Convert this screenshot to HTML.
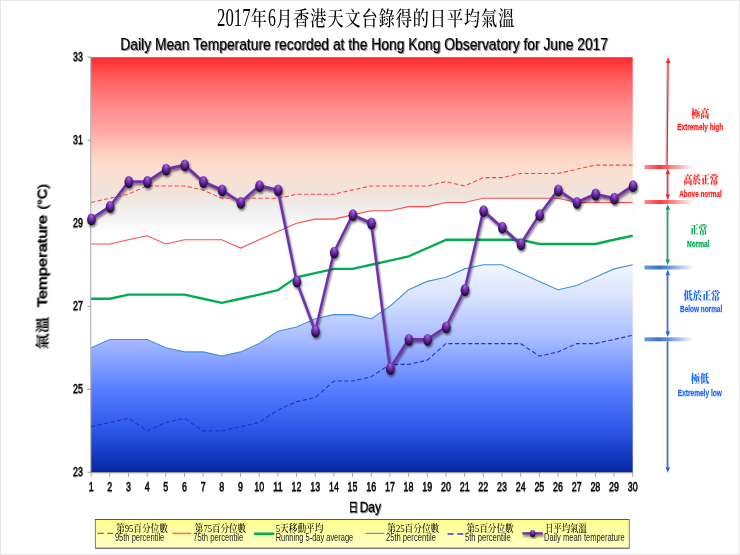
<!DOCTYPE html>
<html lang="zh-Hant">
<head>
<meta charset="utf-8">
<title>2017年6月香港天文台錄得的日平均氣溫</title>
<style>
html,body{margin:0;padding:0;background:#fff;}
body{width:740px;height:555px;overflow:hidden;}
svg{display:block;}
text{font-family:"Liberation Sans","Noto Sans CJK TC",sans-serif;}
.kai{font-family:"Liberation Serif","Noto Serif CJK SC",serif;}
</style>
</head>
<body>
<svg width="740" height="555" viewBox="0 0 740 555">
<defs>
<linearGradient id="bg" x1="0" y1="0" x2="0" y2="1">
<stop offset="0" stop-color="#ff2a2a"/>
<stop offset="0.048" stop-color="#ff5c5c"/>
<stop offset="0.113" stop-color="#ff8888"/>
<stop offset="0.178" stop-color="#ffa8a8"/>
<stop offset="0.231" stop-color="#fdd0c0"/>
<stop offset="0.263" stop-color="#fcddcd"/>
<stop offset="0.296" stop-color="#f7e1d5"/>
<stop offset="0.330" stop-color="#f0e3db"/>
<stop offset="0.356" stop-color="#efebe9"/>
<stop offset="0.388" stop-color="#f4f4f4"/>
<stop offset="0.425" stop-color="#ffffff"/>
<stop offset="1" stop-color="#ffffff"/>
</linearGradient>
<linearGradient id="blue" gradientUnits="userSpaceOnUse" x1="0" y1="57" x2="0" y2="472">
<stop offset="0.49" stop-color="#f4f7ff"/>
<stop offset="0.57" stop-color="#dbe5fd"/>
<stop offset="0.68" stop-color="#a8bcff"/>
<stop offset="0.80" stop-color="#587eff"/>
<stop offset="0.90" stop-color="#2b56e6"/>
<stop offset="1" stop-color="#0626a4"/>
</linearGradient>
<radialGradient id="ball" cx="0.5" cy="0.3" r="0.7" fx="0.5" fy="0.18">
<stop offset="0" stop-color="#a968ea"/>
<stop offset="0.4" stop-color="#7232aa"/>
<stop offset="0.78" stop-color="#3a1260"/>
<stop offset="1" stop-color="#14041f"/>
</radialGradient>
<linearGradient id="rbar" x1="0" y1="0" x2="1" y2="0">
<stop offset="0" stop-color="#ff3838" stop-opacity="0.6"/>
<stop offset="0.3" stop-color="#ff3030" stop-opacity="0.95"/>
<stop offset="0.48" stop-color="#ff3838" stop-opacity="0.75"/>
<stop offset="1" stop-color="#ff4040" stop-opacity="0"/>
</linearGradient>
<linearGradient id="bbar" x1="0" y1="0" x2="1" y2="0">
<stop offset="0" stop-color="#3c78d0" stop-opacity="0.75"/>
<stop offset="0.3" stop-color="#386fca" stop-opacity="0.98"/>
<stop offset="0.48" stop-color="#3c78d0" stop-opacity="0.8"/>
<stop offset="1" stop-color="#3c78d0" stop-opacity="0"/>
</linearGradient>
<linearGradient id="leg" x1="0" y1="0" x2="0" y2="1">
<stop offset="0" stop-color="#ffff8c"/>
<stop offset="1" stop-color="#ffffc8"/>
</linearGradient>
<filter id="sh" x="-20%" y="-20%" width="140%" height="150%">
<feGaussianBlur in="SourceAlpha" stdDeviation="1.1"/>
<feOffset dx="1.2" dy="1.6" result="b"/>
<feComponentTransfer><feFuncA type="linear" slope="0.55"/></feComponentTransfer>
<feMerge><feMergeNode/><feMergeNode in="SourceGraphic"/></feMerge>
</filter>
<filter id="tsh" x="-5%" y="-20%" width="110%" height="150%">
<feGaussianBlur in="SourceAlpha" stdDeviation="0.6"/>
<feOffset dx="0.9" dy="0.9"/>
<feComponentTransfer><feFuncA type="linear" slope="0.45"/></feComponentTransfer>
<feMerge><feMergeNode/><feMergeNode in="SourceGraphic"/></feMerge>
</filter>
<filter id="flat" x="0" y="0" width="100%" height="100%"><feOffset dx="0" dy="0"/></filter>
<filter id="ssh" x="-10%" y="-20%" width="125%" height="150%">
<feGaussianBlur in="SourceAlpha" stdDeviation="0.45"/>
<feOffset dx="0.6" dy="0.6"/>
<feComponentTransfer><feFuncA type="linear" slope="0.4"/></feComponentTransfer>
<feMerge><feMergeNode/><feMergeNode in="SourceGraphic"/></feMerge>
</filter>
<filter id="bl" x="-5%" y="-60%" width="110%" height="220%"><feGaussianBlur stdDeviation="0.7"/></filter>
</defs>
<rect x="0" y="0" width="740" height="555" fill="#ffffff"/>
<rect x="0.5" y="0.5" width="739" height="554" fill="none" stroke="#e6e8e8" stroke-width="1"/>

<g filter="url(#flat)"><g transform="scale(0.800,1)">
<rect x="113.87" y="57.2" width="677.00" height="415.1" fill="url(#bg)"/>
<polygon points="113.9,244.0 137.2,244.0 160.6,239.8 183.9,235.7 207.3,244.0 230.6,239.8 253.9,239.8 277.3,239.8 300.6,248.1 324.0,239.8 347.3,231.5 370.7,223.2 394.0,219.1 417.4,219.1 440.7,214.9 464.0,210.8 487.4,210.8 510.7,206.6 534.1,206.6 557.4,202.5 580.8,202.5 604.1,198.3 627.5,198.3 650.8,198.3 674.2,198.3 697.5,198.3 720.8,202.5 744.2,202.5 767.5,202.5 790.9,202.5 790.9,472.3 113.9,472.3" fill="#ffffff"/>
<polygon points="113.9,347.8 137.2,339.5 160.6,339.5 183.9,339.5 207.3,347.8 230.6,351.9 253.9,351.9 277.3,356.1 300.6,351.9 324.0,343.6 347.3,331.2 370.7,327.0 394.0,318.7 417.4,314.6 440.7,314.6 464.0,318.7 487.4,306.3 510.7,289.7 534.1,281.4 557.4,277.2 580.8,268.9 604.1,264.8 627.5,264.8 650.8,273.1 674.2,281.4 697.5,289.7 720.8,285.5 744.2,277.2 767.5,268.9 790.9,264.8 790.9,472.3 113.9,472.3" fill="url(#blue)"/>
<g stroke="#9a9a9a" stroke-width="1.1" fill="none">
<line x1="113.47" y1="57.2" x2="113.47" y2="472.8"/>
<line x1="113.47" y1="472.6" x2="791.27" y2="472.6"/>
<line x1="109.37" y1="57.2" x2="113.87" y2="57.2"/>
<line x1="109.37" y1="140.2" x2="113.87" y2="140.2"/>
<line x1="109.37" y1="223.2" x2="113.87" y2="223.2"/>
<line x1="109.37" y1="306.3" x2="113.87" y2="306.3"/>
<line x1="109.37" y1="389.3" x2="113.87" y2="389.3"/>
<line x1="109.37" y1="472.3" x2="113.87" y2="472.3"/>
<line x1="113.87" y1="472.3" x2="113.87" y2="476.7"/>
<line x1="137.22" y1="472.3" x2="137.22" y2="476.7"/>
<line x1="160.56" y1="472.3" x2="160.56" y2="476.7"/>
<line x1="183.91" y1="472.3" x2="183.91" y2="476.7"/>
<line x1="207.25" y1="472.3" x2="207.25" y2="476.7"/>
<line x1="230.60" y1="472.3" x2="230.60" y2="476.7"/>
<line x1="253.94" y1="472.3" x2="253.94" y2="476.7"/>
<line x1="277.29" y1="472.3" x2="277.29" y2="476.7"/>
<line x1="300.63" y1="472.3" x2="300.63" y2="476.7"/>
<line x1="323.98" y1="472.3" x2="323.98" y2="476.7"/>
<line x1="347.32" y1="472.3" x2="347.32" y2="476.7"/>
<line x1="370.67" y1="472.3" x2="370.67" y2="476.7"/>
<line x1="394.01" y1="472.3" x2="394.01" y2="476.7"/>
<line x1="417.36" y1="472.3" x2="417.36" y2="476.7"/>
<line x1="440.70" y1="472.3" x2="440.70" y2="476.7"/>
<line x1="464.05" y1="472.3" x2="464.05" y2="476.7"/>
<line x1="487.39" y1="472.3" x2="487.39" y2="476.7"/>
<line x1="510.74" y1="472.3" x2="510.74" y2="476.7"/>
<line x1="534.08" y1="472.3" x2="534.08" y2="476.7"/>
<line x1="557.43" y1="472.3" x2="557.43" y2="476.7"/>
<line x1="580.77" y1="472.3" x2="580.77" y2="476.7"/>
<line x1="604.12" y1="472.3" x2="604.12" y2="476.7"/>
<line x1="627.46" y1="472.3" x2="627.46" y2="476.7"/>
<line x1="650.81" y1="472.3" x2="650.81" y2="476.7"/>
<line x1="674.15" y1="472.3" x2="674.15" y2="476.7"/>
<line x1="697.50" y1="472.3" x2="697.50" y2="476.7"/>
<line x1="720.84" y1="472.3" x2="720.84" y2="476.7"/>
<line x1="744.19" y1="472.3" x2="744.19" y2="476.7"/>
<line x1="767.53" y1="472.3" x2="767.53" y2="476.7"/>
<line x1="790.88" y1="472.3" x2="790.88" y2="476.7"/>
</g>
<polyline points="113.9,202.5 137.2,198.3 160.6,194.2 183.9,185.9 207.3,185.9 230.6,185.9 253.9,190.0 277.3,198.3 300.6,198.3 324.0,198.3 347.3,198.3 370.7,194.2 394.0,194.2 417.4,194.2 440.7,190.0 464.0,185.9 487.4,185.9 510.7,185.9 534.1,185.9 557.4,181.7 580.8,185.9 604.1,177.6 627.5,177.6 650.8,173.4 674.2,173.4 697.5,173.4 720.8,169.3 744.2,165.1 767.5,165.1 790.9,165.1" fill="none" stroke="#ff4040" stroke-width="1.05" stroke-dasharray="5.2 3"/>
<polyline points="113.9,244.0 137.2,244.0 160.6,239.8 183.9,235.7 207.3,244.0 230.6,239.8 253.9,239.8 277.3,239.8 300.6,248.1 324.0,239.8 347.3,231.5 370.7,223.2 394.0,219.1 417.4,219.1 440.7,214.9 464.0,210.8 487.4,210.8 510.7,206.6 534.1,206.6 557.4,202.5 580.8,202.5 604.1,198.3 627.5,198.3 650.8,198.3 674.2,198.3 697.5,198.3 720.8,202.5 744.2,202.5 767.5,202.5 790.9,202.5" fill="none" stroke="#ff4a4a" stroke-width="1.1"/>
<polyline points="113.9,347.8 137.2,339.5 160.6,339.5 183.9,339.5 207.3,347.8 230.6,351.9 253.9,351.9 277.3,356.1 300.6,351.9 324.0,343.6 347.3,331.2 370.7,327.0 394.0,318.7 417.4,314.6 440.7,314.6 464.0,318.7 487.4,306.3 510.7,289.7 534.1,281.4 557.4,277.2 580.8,268.9 604.1,264.8 627.5,264.8 650.8,273.1 674.2,281.4 697.5,289.7 720.8,285.5 744.2,277.2 767.5,268.9 790.9,264.8" fill="none" stroke="#3f8fd6" stroke-width="1.1"/>
<polyline points="113.9,426.6 137.2,422.5 160.6,418.3 183.9,430.8 207.3,422.5 230.6,418.3 253.9,430.8 277.3,430.8 300.6,426.6 324.0,422.5 347.3,410.0 370.7,401.7 394.0,397.6 417.4,381.0 440.7,381.0 464.0,376.8 487.4,364.4 510.7,364.4 534.1,360.2 557.4,343.6 580.8,343.6 604.1,343.6 627.5,343.6 650.8,343.6 674.2,356.1 697.5,351.9 720.8,343.6 744.2,343.6 767.5,339.5 790.9,335.3" fill="none" stroke="#2232d8" stroke-width="1.2" stroke-dasharray="5.2 3"/>
<polyline points="113.9,298.8 137.2,298.8 160.6,294.6 183.9,294.6 207.3,294.6 230.6,294.6 253.9,298.8 277.3,302.9 300.6,298.8 324.0,294.6 347.3,290.1 370.7,277.2 394.0,273.1 417.4,268.9 440.7,268.9 464.0,264.8 487.4,260.6 510.7,256.4 534.1,248.1 557.4,239.8 580.8,239.8 604.1,239.8 627.5,239.8 650.8,239.8 674.2,244.0 697.5,244.0 720.8,244.0 744.2,244.0 767.5,239.8 790.9,235.7" fill="none" stroke="#00ad50" stroke-width="2.4" stroke-linejoin="round"/>
<g filter="url(#sh)">
<polyline points="113.9,219.1 137.2,206.6 160.6,181.7 183.9,181.7 207.3,169.3 230.6,165.1 253.9,181.7 277.3,190.0 300.6,202.5 324.0,185.9 347.3,190.0 370.7,281.4 394.0,331.2 417.4,252.3 440.7,214.9 464.0,223.2 487.4,368.5 510.7,339.5 534.1,339.5 557.4,327.0 580.8,289.7 604.1,210.8 627.5,227.4 650.8,244.0 674.2,214.9 697.5,190.0 720.8,202.5 744.2,194.2 767.5,198.3 790.9,185.9" fill="none" stroke="#7030aa" stroke-width="3.1" stroke-linejoin="round" stroke-linecap="round"/>
<ellipse cx="114.3" cy="219.4" rx="5.4" ry="5.9" fill="url(#ball)"/>
<ellipse cx="137.6" cy="206.9" rx="5.4" ry="5.9" fill="url(#ball)"/>
<ellipse cx="161.0" cy="182.0" rx="5.4" ry="5.9" fill="url(#ball)"/>
<ellipse cx="184.3" cy="182.0" rx="5.4" ry="5.9" fill="url(#ball)"/>
<ellipse cx="207.7" cy="169.6" rx="5.4" ry="5.9" fill="url(#ball)"/>
<ellipse cx="231.0" cy="165.4" rx="5.4" ry="5.9" fill="url(#ball)"/>
<ellipse cx="254.3" cy="182.0" rx="5.4" ry="5.9" fill="url(#ball)"/>
<ellipse cx="277.7" cy="190.3" rx="5.4" ry="5.9" fill="url(#ball)"/>
<ellipse cx="301.0" cy="202.8" rx="5.4" ry="5.9" fill="url(#ball)"/>
<ellipse cx="324.4" cy="186.2" rx="5.4" ry="5.9" fill="url(#ball)"/>
<ellipse cx="347.7" cy="190.3" rx="5.4" ry="5.9" fill="url(#ball)"/>
<ellipse cx="371.1" cy="281.7" rx="5.4" ry="5.9" fill="url(#ball)"/>
<ellipse cx="394.4" cy="331.5" rx="5.4" ry="5.9" fill="url(#ball)"/>
<ellipse cx="417.8" cy="252.6" rx="5.4" ry="5.9" fill="url(#ball)"/>
<ellipse cx="441.1" cy="215.2" rx="5.4" ry="5.9" fill="url(#ball)"/>
<ellipse cx="464.4" cy="223.5" rx="5.4" ry="5.9" fill="url(#ball)"/>
<ellipse cx="487.8" cy="368.8" rx="5.4" ry="5.9" fill="url(#ball)"/>
<ellipse cx="511.1" cy="339.8" rx="5.4" ry="5.9" fill="url(#ball)"/>
<ellipse cx="534.5" cy="339.8" rx="5.4" ry="5.9" fill="url(#ball)"/>
<ellipse cx="557.8" cy="327.3" rx="5.4" ry="5.9" fill="url(#ball)"/>
<ellipse cx="581.2" cy="290.0" rx="5.4" ry="5.9" fill="url(#ball)"/>
<ellipse cx="604.5" cy="211.1" rx="5.4" ry="5.9" fill="url(#ball)"/>
<ellipse cx="627.9" cy="227.7" rx="5.4" ry="5.9" fill="url(#ball)"/>
<ellipse cx="651.2" cy="244.3" rx="5.4" ry="5.9" fill="url(#ball)"/>
<ellipse cx="674.6" cy="215.2" rx="5.4" ry="5.9" fill="url(#ball)"/>
<ellipse cx="697.9" cy="190.3" rx="5.4" ry="5.9" fill="url(#ball)"/>
<ellipse cx="721.2" cy="202.8" rx="5.4" ry="5.9" fill="url(#ball)"/>
<ellipse cx="744.6" cy="194.5" rx="5.4" ry="5.9" fill="url(#ball)"/>
<ellipse cx="767.9" cy="198.6" rx="5.4" ry="5.9" fill="url(#ball)"/>
<ellipse cx="791.3" cy="186.2" rx="5.4" ry="5.9" fill="url(#ball)"/>
</g>
<text class="kai" x="271.38" y="26.4" font-size="25" textLength="41.75" lengthAdjust="spacingAndGlyphs" fill="#000">2017</text>
<text class="kai" x="313.50" y="25.8" font-size="20.2" font-weight="500" textLength="21.25" lengthAdjust="spacing" fill="#000">年</text>
<text class="kai" x="335.12" y="26.4" font-size="25" textLength="9.88" lengthAdjust="spacingAndGlyphs" fill="#000">6</text>
<text class="kai" x="345.38" y="25.8" font-size="20.2" font-weight="500" textLength="21.25" lengthAdjust="spacing" fill="#000">月</text>
<text class="kai" x="366.62" y="25.8" font-size="20.2" font-weight="500" textLength="276.25" lengthAdjust="spacing" fill="#000">香港天文台錄得的日平均氣溫</text>
<text x="455.2" y="50.4" font-size="17.3" text-anchor="middle" textLength="609.5" lengthAdjust="spacingAndGlyphs" fill="#000" stroke="#000" stroke-width="0.22" filter="url(#tsh)">Daily Mean Temperature recorded at the Hong Kong Observatory for June 2017</text>
<g font-size="12" text-anchor="end" fill="#000" stroke="#000" stroke-width="0.35" filter="url(#ssh)">
<text x="103.8" y="61.1" textLength="12.4" lengthAdjust="spacingAndGlyphs">33</text>
<text x="103.8" y="144.1" textLength="12.4" lengthAdjust="spacingAndGlyphs">31</text>
<text x="103.8" y="227.1" textLength="12.4" lengthAdjust="spacingAndGlyphs">29</text>
<text x="103.8" y="310.2" textLength="12.4" lengthAdjust="spacingAndGlyphs">27</text>
<text x="103.8" y="393.2" textLength="12.4" lengthAdjust="spacingAndGlyphs">25</text>
<text x="103.8" y="476.2" textLength="12.4" lengthAdjust="spacingAndGlyphs">23</text>
</g>
<g font-size="12" text-anchor="middle" fill="#000" stroke="#000" stroke-width="0.35" filter="url(#ssh)">
<text x="113.9" y="490.8" textLength="6.2" lengthAdjust="spacingAndGlyphs">1</text>
<text x="137.2" y="490.8" textLength="6.2" lengthAdjust="spacingAndGlyphs">2</text>
<text x="160.6" y="490.8" textLength="6.2" lengthAdjust="spacingAndGlyphs">3</text>
<text x="183.9" y="490.8" textLength="6.2" lengthAdjust="spacingAndGlyphs">4</text>
<text x="207.3" y="490.8" textLength="6.2" lengthAdjust="spacingAndGlyphs">5</text>
<text x="230.6" y="490.8" textLength="6.2" lengthAdjust="spacingAndGlyphs">6</text>
<text x="253.9" y="490.8" textLength="6.2" lengthAdjust="spacingAndGlyphs">7</text>
<text x="277.3" y="490.8" textLength="6.2" lengthAdjust="spacingAndGlyphs">8</text>
<text x="300.6" y="490.8" textLength="6.2" lengthAdjust="spacingAndGlyphs">9</text>
<text x="324.0" y="490.8" textLength="12.4" lengthAdjust="spacingAndGlyphs">10</text>
<text x="347.3" y="490.8" textLength="12.4" lengthAdjust="spacingAndGlyphs">11</text>
<text x="370.7" y="490.8" textLength="12.4" lengthAdjust="spacingAndGlyphs">12</text>
<text x="394.0" y="490.8" textLength="12.4" lengthAdjust="spacingAndGlyphs">13</text>
<text x="417.4" y="490.8" textLength="12.4" lengthAdjust="spacingAndGlyphs">14</text>
<text x="440.7" y="490.8" textLength="12.4" lengthAdjust="spacingAndGlyphs">15</text>
<text x="464.0" y="490.8" textLength="12.4" lengthAdjust="spacingAndGlyphs">16</text>
<text x="487.4" y="490.8" textLength="12.4" lengthAdjust="spacingAndGlyphs">17</text>
<text x="510.7" y="490.8" textLength="12.4" lengthAdjust="spacingAndGlyphs">18</text>
<text x="534.1" y="490.8" textLength="12.4" lengthAdjust="spacingAndGlyphs">19</text>
<text x="557.4" y="490.8" textLength="12.4" lengthAdjust="spacingAndGlyphs">20</text>
<text x="580.8" y="490.8" textLength="12.4" lengthAdjust="spacingAndGlyphs">21</text>
<text x="604.1" y="490.8" textLength="12.4" lengthAdjust="spacingAndGlyphs">22</text>
<text x="627.5" y="490.8" textLength="12.4" lengthAdjust="spacingAndGlyphs">23</text>
<text x="650.8" y="490.8" textLength="12.4" lengthAdjust="spacingAndGlyphs">24</text>
<text x="674.2" y="490.8" textLength="12.4" lengthAdjust="spacingAndGlyphs">25</text>
<text x="697.5" y="490.8" textLength="12.4" lengthAdjust="spacingAndGlyphs">26</text>
<text x="720.8" y="490.8" textLength="12.4" lengthAdjust="spacingAndGlyphs">27</text>
<text x="744.2" y="490.8" textLength="12.4" lengthAdjust="spacingAndGlyphs">28</text>
<text x="767.5" y="490.8" textLength="12.4" lengthAdjust="spacingAndGlyphs">29</text>
<text x="790.9" y="490.8" textLength="12.4" lengthAdjust="spacingAndGlyphs">30</text>
</g>
<text x="455.9" y="512.4" font-size="15" text-anchor="middle" fill="#000" stroke="#000" stroke-width="0.3" filter="url(#tsh)"><tspan font-size="12" dy="-0.6">日</tspan><tspan dy="0.6" dx="2">Day</tspan></text>
<rect x="119.1" y="519.5" width="667.4" height="28.6" fill="url(#leg)" stroke="#4a4a4a" stroke-width="0.9"/>
<line x1="119.1" y1="548.9" x2="787.0" y2="548.9" stroke="#555" stroke-width="0.8"/>
<line x1="122.0" y1="533.4" x2="142.2" y2="533.4" stroke="#ff3030" stroke-width="1.3" stroke-dasharray="7.5 4.5"/>
<line x1="215.5" y1="533.4" x2="239.2" y2="533.4" stroke="#f4805a" stroke-width="1.7"/>
<line x1="317.5" y1="533.8" x2="342.9" y2="533.8" stroke="#00ad50" stroke-width="2.6"/>
<line x1="457.1" y1="533.4" x2="480.4" y2="533.4" stroke="#4a9ad8" stroke-width="1.2"/>
<line x1="559.5" y1="534.0" x2="580.4" y2="534.0" stroke="#2a3ad8" stroke-width="1.3" stroke-dasharray="7.5 4.5"/>
<g filter="url(#sh)"><line x1="653.0" y1="533.4" x2="678.4" y2="533.4" stroke="#6c2ca6" stroke-width="2.4"/>
<circle cx="665.8" cy="533.4" r="3.5" fill="url(#ball)"/></g>
<text class="kai" x="145.2" y="531.8" font-size="10.8" font-weight="500" textLength="64.5" lengthAdjust="spacingAndGlyphs" fill="#000">第95百分位數</text>
<text x="143.6" y="541.1" font-size="11" textLength="61.8" lengthAdjust="spacingAndGlyphs" fill="#222">95th percentile</text>
<text class="kai" x="243.6" y="531.8" font-size="10.8" font-weight="500" textLength="64.1" lengthAdjust="spacingAndGlyphs" fill="#000">第75百分位數</text>
<text x="241.5" y="541.1" font-size="11" textLength="62.5" lengthAdjust="spacingAndGlyphs" fill="#222">75th percentile</text>
<text class="kai" x="344.6" y="531.8" font-size="10.8" font-weight="500" textLength="59.8" lengthAdjust="spacingAndGlyphs" fill="#000">5天移動平均</text>
<text x="344.6" y="541.1" font-size="11" textLength="96.9" lengthAdjust="spacingAndGlyphs" fill="#222">Running 5-day average</text>
<text class="kai" x="484.1" y="531.8" font-size="10.8" font-weight="500" textLength="64.9" lengthAdjust="spacingAndGlyphs" fill="#000">第25百分位數</text>
<text x="482.4" y="541.1" font-size="11" textLength="62.5" lengthAdjust="spacingAndGlyphs" fill="#222">25th percentile</text>
<text class="kai" x="583.1" y="531.8" font-size="10.8" font-weight="500" textLength="58.8" lengthAdjust="spacingAndGlyphs" fill="#000">第5百分位數</text>
<text x="581.1" y="541.1" font-size="11" textLength="57.4" lengthAdjust="spacingAndGlyphs" fill="#222">5th percentile</text>
<text class="kai" x="681.7" y="531.8" font-size="10.8" font-weight="500" textLength="51.7" lengthAdjust="spacingAndGlyphs" fill="#000">日平均氣溫</text>
<text x="680.0" y="541.1" font-size="11" textLength="100.8" lengthAdjust="spacingAndGlyphs" fill="#222">Daily mean temperature</text>
<rect x="805.6" y="165.0" width="61.2" height="4" fill="url(#rbar)" filter="url(#bl)"/>
<rect x="805.6" y="200.0" width="61.2" height="4" fill="url(#rbar)" filter="url(#bl)"/>
<rect x="805.6" y="265.5" width="61.2" height="4" fill="url(#bbar)" filter="url(#bl)"/>
<rect x="805.6" y="337.3" width="61.2" height="4" fill="url(#bbar)" filter="url(#bl)"/>
<line x1="833.7" y1="63.3" x2="832.4" y2="166.2" stroke="#555" stroke-opacity="0.35" stroke-width="1.4"/>
<line x1="835.2" y1="62.3" x2="833.9" y2="165.2" stroke="#ff2020" stroke-width="1.6"/>
<polygon points="835.2,57.3 832.5,62.9 838.0,62.9" fill="#ff2020"/>
<line x1="833.2" y1="174.6" x2="833.2" y2="196.2" stroke="#555" stroke-opacity="0.35" stroke-width="1.4"/>
<line x1="834.7" y1="173.6" x2="834.7" y2="195.2" stroke="#ff2020" stroke-width="1.6"/>
<polygon points="834.7,168.6 832.0,174.2 837.5,174.2" fill="#ff2020"/>
<polygon points="834.7,200.2 832.0,194.6 837.5,194.6" fill="#ff2020"/>
<line x1="833.2" y1="210.2" x2="833.2" y2="261.0" stroke="#555" stroke-opacity="0.35" stroke-width="1.4"/>
<line x1="834.7" y1="209.2" x2="834.7" y2="260.0" stroke="#00a651" stroke-width="1.6"/>
<polygon points="834.7,204.2 832.0,209.8 837.5,209.8" fill="#00a651"/>
<polygon points="834.7,265.0 832.0,259.4 837.5,259.4" fill="#00a651"/>
<line x1="833.2" y1="275.6" x2="833.2" y2="333.0" stroke="#555" stroke-opacity="0.35" stroke-width="1.4"/>
<line x1="834.7" y1="274.6" x2="834.7" y2="332.0" stroke="#1a66ff" stroke-width="1.6"/>
<polygon points="834.7,269.6 832.0,275.2 837.5,275.2" fill="#1a66ff"/>
<polygon points="834.7,337.0 832.0,331.4 837.5,331.4" fill="#1a66ff"/>
<line x1="833.2" y1="342.2" x2="833.2" y2="468.8" stroke="#555" stroke-opacity="0.35" stroke-width="1.4"/>
<line x1="834.7" y1="341.2" x2="834.7" y2="467.8" stroke="#1a66ff" stroke-width="1.6"/>
<polygon points="834.7,472.8 832.0,467.2 837.5,467.2" fill="#1a66ff"/>
<text class="kai" x="864.2" y="117.6" font-size="11" font-weight="900" textLength="22.4" lengthAdjust="spacingAndGlyphs" fill="#ff1a1a">極高</text>
<text x="846.5" y="130.2" font-size="9.6" font-weight="700" textLength="57.5" lengthAdjust="spacingAndGlyphs" fill="#ff1a1a" stroke="#ff1a1a" stroke-width="0.25">Extremely high</text>
<text class="kai" x="854.4" y="184.2" font-size="11" font-weight="900" textLength="43.9" lengthAdjust="spacingAndGlyphs" fill="#ff1a1a">高於正常</text>
<text x="849.0" y="197.0" font-size="9.6" font-weight="700" textLength="53.2" lengthAdjust="spacingAndGlyphs" fill="#ff1a1a" stroke="#ff1a1a" stroke-width="0.25">Above normal</text>
<text class="kai" x="862.5" y="234.2" font-size="11" font-weight="900" textLength="21.6" lengthAdjust="spacingAndGlyphs" fill="#00a651">正常</text>
<text x="858.8" y="246.6" font-size="9.6" font-weight="700" textLength="27.9" lengthAdjust="spacingAndGlyphs" fill="#00a651" stroke="#00a651" stroke-width="0.25">Normal</text>
<text class="kai" x="854.4" y="299.6" font-size="11" font-weight="900" textLength="45.9" lengthAdjust="spacingAndGlyphs" fill="#1a66ff">低於正常</text>
<text x="850.0" y="311.8" font-size="9.6" font-weight="700" textLength="52.8" lengthAdjust="spacingAndGlyphs" fill="#1a66ff" stroke="#1a66ff" stroke-width="0.25">Below normal</text>
<text class="kai" x="863.5" y="382.6" font-size="11" font-weight="900" textLength="23.0" lengthAdjust="spacingAndGlyphs" fill="#1a66ff">極低</text>
<text x="847.2" y="395.6" font-size="9.6" font-weight="700" textLength="55.1" lengthAdjust="spacingAndGlyphs" fill="#1a66ff" stroke="#1a66ff" stroke-width="0.25">Extremely low</text>
</g>
<g transform="translate(46.3,0) rotate(-90) scale(1,0.80)" fill="#000" stroke="#000" stroke-width="0.4" filter="url(#tsh)">
<text class="kai" x="-350" y="0" font-size="16" font-weight="500" stroke-width="0.15" textLength="33" lengthAdjust="spacingAndGlyphs">氣溫</text>
<text x="-307.6" y="0" font-size="16.2" textLength="92.6" lengthAdjust="spacingAndGlyphs">Temperature</text>
<text x="-209.7" y="0" font-size="16.2" textLength="25.3" lengthAdjust="spacingAndGlyphs">(°C)</text>
</g>
</g></svg>
</body>
</html>
